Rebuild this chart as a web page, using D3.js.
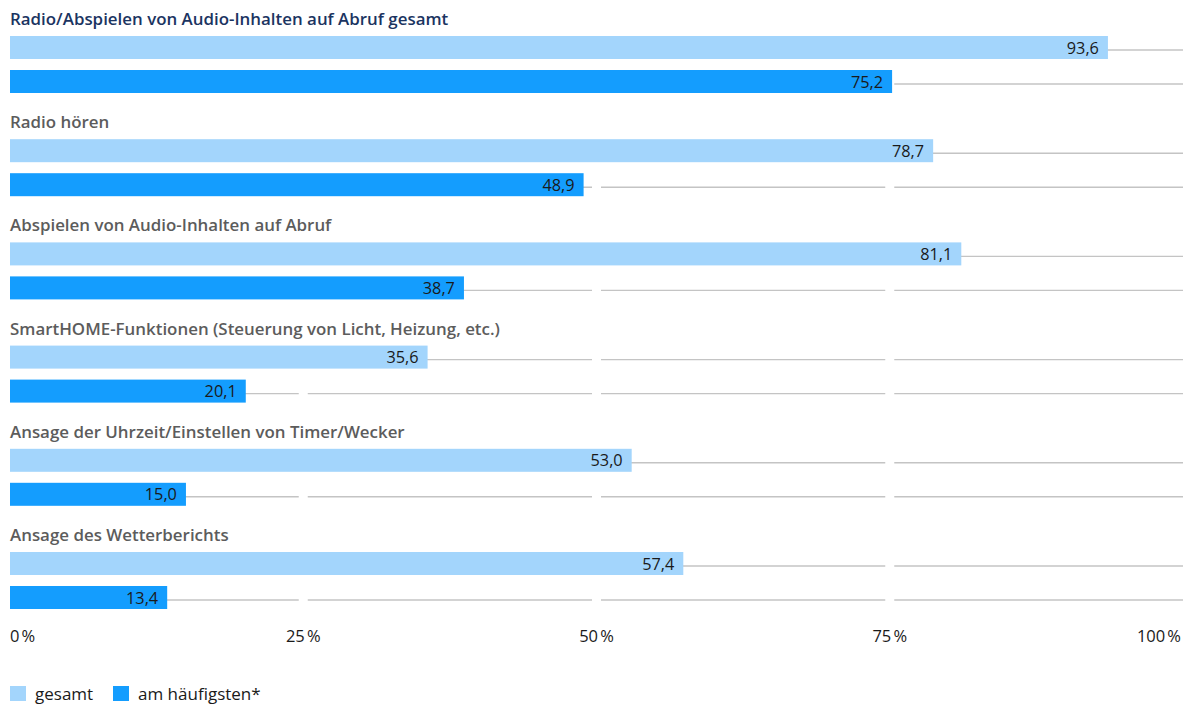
<!DOCTYPE html>
<html><head><meta charset="utf-8">
<script src="https://cdn.jsdelivr.net/npm/d3@7"></script>
<style>body{margin:0;background:#fff}svg{display:block}</style>
</head><body>
<svg id="c" width="1190" height="704"></svg>
<script>
const categories = [
  "Radio/Abspielen von Audio-Inhalten auf Abruf gesamt",
  "Radio hören",
  "Abspielen von Audio-Inhalten auf Abruf",
  "SmartHOME-Funktionen (Steuerung von Licht, Heizung, etc.)",
  "Ansage der Uhrzeit/Einstellen von Timer/Wecker",
  "Ansage des Wetterberichts"
];
const gesamt = [93.6, 78.7, 81.1, 35.6, 53.0, 57.4];
const haeufigsten = [75.2, 48.9, 38.7, 20.1, 15.0, 13.4];
const seriesNames = ["gesamt", "am häufigsten*"];
const tickValues = [0, 25, 50, 75, 100];
const tickLabels = ["0\u202F%", "25\u202F%", "50\u202F%", "75\u202F%", "100\u202F%"];

const colors = ["#a3d5fc", "#149dfe"];
const FONT = "'Open Sans', sans-serif";
const svg = d3.select("#c");
const x = d3.scaleLinear().domain([0, 100]).range([10, 1183]);
const groupY = d3.scaleLinear().domain([0, categories.length - 1]).range([36, 552]);
const barH = 23, barOff = 34;
const fmt = v => v.toFixed(1).replace(".", ",");

// gridlines (segments between ticks, with gaps at tick positions)
const gap = 4.5;
const segs = [];
for (let i = 0; i < tickValues.length - 1; i++) {
  segs.push([x(tickValues[i]) + (i === 0 ? 0 : gap), x(tickValues[i + 1]) - (i + 1 === tickValues.length - 1 ? 0 : gap)]);
}
categories.forEach((c, i) => {
  [0, 1].forEach(s => {
    const y = groupY(i) + s * barOff + 14;
    svg.append("g").selectAll("line").data(segs).join("line")
      .attr("x1", d => d[0]).attr("x2", d => d[1])
      .attr("y1", y).attr("y2", y)
      .attr("stroke", "#c4c4c4").attr("stroke-width", 1.4);
  });
});

// titles
svg.append("g").selectAll("text").data(categories).join("text")
  .attr("x", 10).attr("y", (d, i) => groupY(i) - 11)
  .attr("font-family", FONT).attr("font-weight", 600).attr("font-size", 16.9)
  .attr("fill", (d, i) => i === 0 ? "#1b3461" : "#5c5c5c")
  .text(d => d);

// bars
const series = [gesamt, haeufigsten];
series.forEach((vals, s) => {
  const g = svg.append("g");
  g.selectAll("rect").data(vals).join("rect")
    .attr("x", x(0)).attr("y", (d, i) => groupY(i) + s * barOff)
    .attr("width", d => x(d) - x(0)).attr("height", barH)
    .attr("fill", colors[s]);
  g.selectAll("text").data(vals).join("text")
    .attr("x", d => x(d) - 9).attr("y", (d, i) => groupY(i) + s * barOff + 17.5)
    .attr("text-anchor", "end")
    .attr("font-family", FONT).attr("font-size", 16.3).attr("fill", "#1a1a1a")
    .text(d => fmt(d));
});

// axis labels
svg.append("g").selectAll("text").data(tickValues).join("text")
  .attr("x", (d, i) => i === 0 ? x(d) : (i === tickValues.length - 1 ? x(d) - 2 : x(d)))
  .attr("y", 642)
  .attr("text-anchor", (d, i) => i === 0 ? "start" : (i === tickValues.length - 1 ? "end" : "middle"))
  .attr("font-family", FONT).attr("font-size", 16.5).attr("fill", "#1a1a1a")
  .text((d, i) => tickLabels[i]);

// legend
const legX = [10, 113];
const lg = svg.append("g").selectAll("g").data(seriesNames).join("g")
  .attr("transform", (d, i) => `translate(${legX[i]},686)`);
lg.append("rect").attr("width", 16).attr("height", 15).attr("fill", (d, i) => colors[i]);
lg.append("text").attr("x", 25).attr("y", 13.5)
  .attr("font-family", FONT).attr("font-size", 17).attr("fill", "#1a1a1a")
  .text(d => d);
</script>
</body></html>
